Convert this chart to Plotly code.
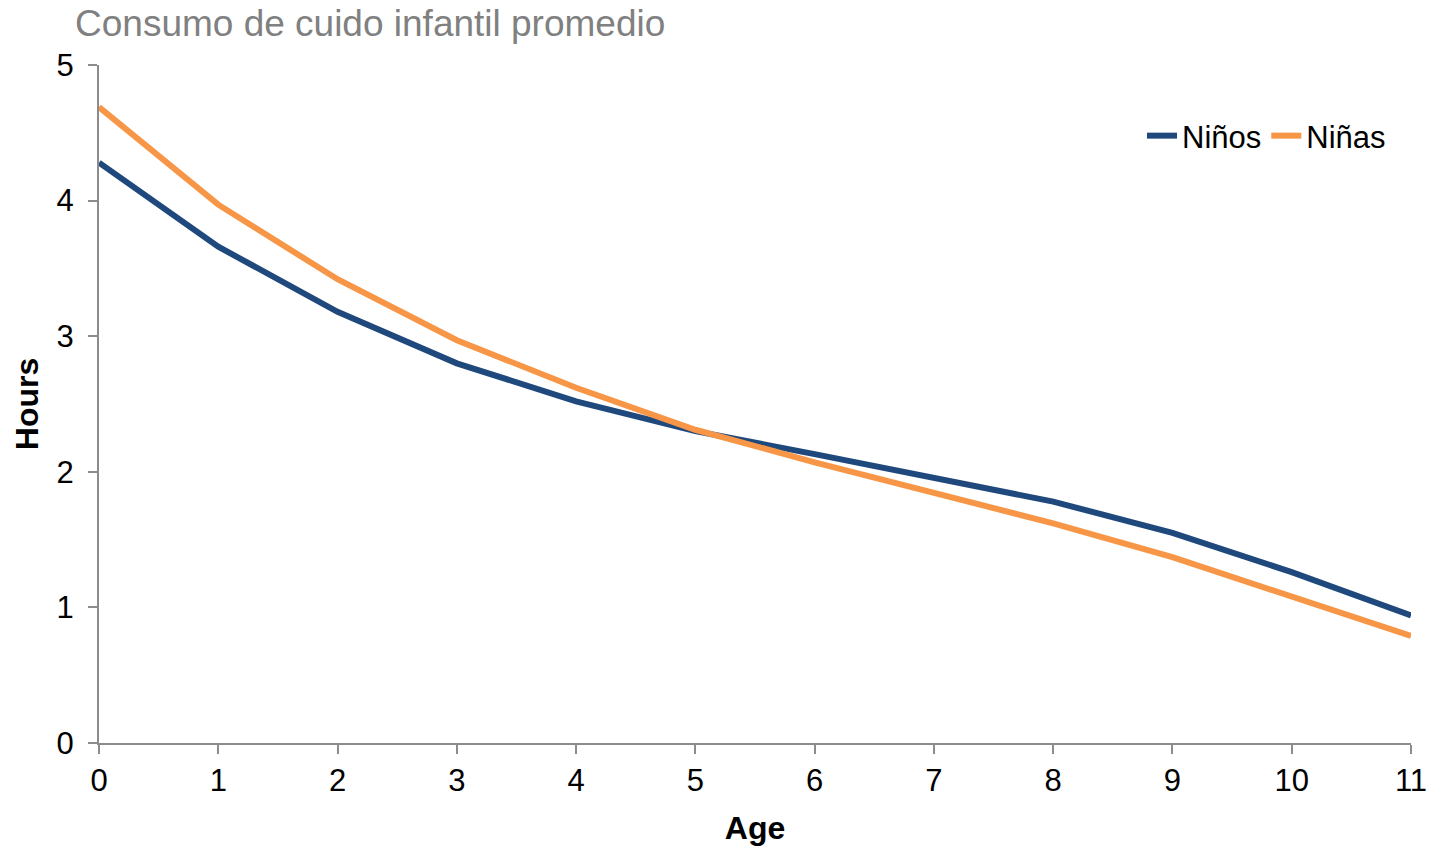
import plotly.graph_objects as go

ages = list(range(12))
ninos = [4.28, 3.66, 3.18, 2.80, 2.52, 2.30, 2.13, 1.96, 1.78, 1.55, 1.26, 0.94]
ninas = [4.69, 3.97, 3.42, 2.97, 2.62, 2.31, 2.07, 1.85, 1.62, 1.37, 1.08, 0.79]

font = "Liberation Sans, Arial, sans-serif"
W, H = 1434, 848
L, R, T, B = 99, 23, 65, 105
PW, PH = W - L - R, H - T - B

fig = go.Figure()
fig.add_trace(go.Scatter(x=ages, y=ninos, mode="lines", name="Niños",
                         line=dict(color="#1F497D", width=6)))
fig.add_trace(go.Scatter(x=ages, y=ninas, mode="lines", name="Niñas",
                         line=dict(color="#F79646", width=6)))

fig.update_layout(
    width=W, height=H,
    paper_bgcolor="white", plot_bgcolor="white",
    margin=dict(l=L, r=R, t=T, b=B, autoexpand=False),
    font=dict(family=font, size=31, color="black"),
    title=dict(text="Consumo de cuido infantil promedio", x=75 / W, xanchor="left",
               xref="container", y=1 - 23 / H, yanchor="middle", yref="container",
               font=dict(size=37, color="#808080", family=font)),
    showlegend=True,
    legend=dict(orientation="h", x=(1391 - L) / PW, xanchor="right",
                y=1 - (136 - T) / PH, yanchor="middle",
                font=dict(size=31, family=font), bgcolor="rgba(0,0,0,0)",
                itemwidth=30, tracegroupgap=0),
    xaxis=dict(range=[0, 11], tickvals=ages, ticktext=[str(a) for a in ages],
               automargin=False,
               showgrid=False, zeroline=False, showline=True, linecolor="#8C8C8C", linewidth=2,
               ticks="outside", ticklen=9, tickcolor="#8C8C8C", tickwidth=2,
               ticklabelstandoff=0,
               tickfont=dict(size=31, family=font),
               title=dict(text="<b>Age</b>", font=dict(size=32, family=font), standoff=19)),
    yaxis=dict(range=[0, 5], tickvals=[0, 1, 2, 3, 4, 5],
               automargin=False,
               showgrid=False, zeroline=False, showline=True, linecolor="#8C8C8C", linewidth=2,
               ticks="outside", ticklen=9, tickcolor="#8C8C8C", tickwidth=2,
               ticklabelstandoff=8,
               tickfont=dict(size=31, family=font),
               title=dict(text="<b>Hours</b>", font=dict(size=32, family=font), standoff=8)),
)

fig.write_html("out.html", config={"displayModeBar": False},
               post_script="document.body.style.margin='0';document.body.style.overflow='hidden';")
